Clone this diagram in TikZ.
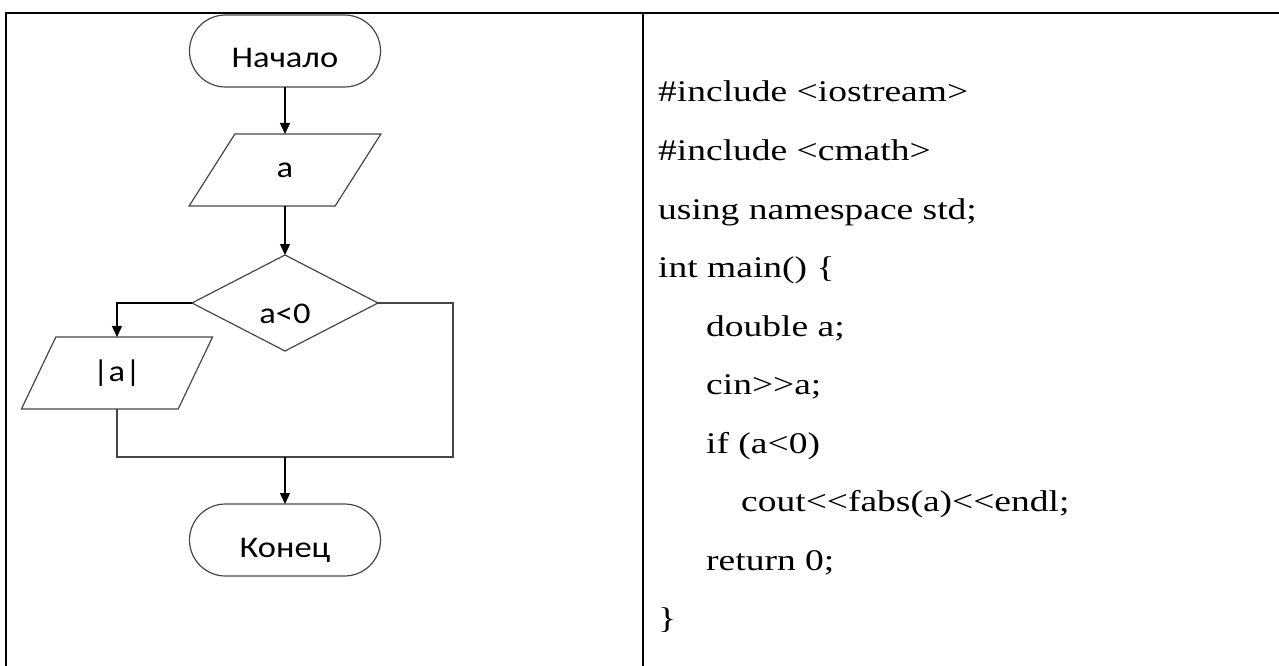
\documentclass[tikz,border=0pt]{standalone}
\usepackage{fontspec}
\setmainfont{Liberation Serif}
\newfontfamily\codefont[FakeStretch=1.25]{Liberation Serif}
\newfontfamily\chartfont[FakeStretch=1.15]{Carlito}
\usetikzlibrary{shapes.geometric,arrows.meta}

\definecolor{edgegray}{RGB}{70,70,70}

\tikzset{
    term/.style={draw=edgegray, line width=1.2pt, rounded corners=36pt, minimum width=191pt,
        minimum height=72pt, inner sep=0pt, outer sep=0pt, text height=34pt, text depth=0pt,
        font=\chartfont\fontsize{30}{30}\selectfont},
    iobox/.style={draw=edgegray, line width=1.2pt, trapezium, trapezium left angle=63,
        trapezium right angle=117, trapezium stretches=true, minimum width=192pt,
        minimum height=72pt, inner sep=0pt, outer sep=0pt, font=\chartfont\fontsize{30}{30}\selectfont},
    test/.style={draw=edgegray, line width=1.2pt, diamond, aspect=1.94, minimum width=186pt,
        minimum height=96pt, inner sep=0pt, outer sep=0pt, text height=40pt, text depth=0pt,
        font=\chartfont\fontsize{30}{30}\selectfont},
    flow/.style={draw=edgegray, line width=1.4pt},
    arr/.style={flow, draw=black, -{Triangle[length=11pt,width=10pt]}},
    code/.style={anchor=base west, inner sep=0pt, font=\codefont\fontsize{30}{30}\selectfont},
    grid/.style={line width=2pt}
}

\begin{document}
\begin{tikzpicture}[x=1pt,y=-1pt]
    \useasboundingbox (0,0) rectangle (1279,666);

    % table
    \draw[grid] (5,13) -- (1279,13);
    \draw[grid] (6,12) -- (6,666);
    \draw[grid] (643,12) -- (643,666);

    % flowchart
    \node[term]  (start) at (285,51)  {Начало};
    \node[iobox] (inp)   at (285,170) {a};
    \node[test]  (cond)  at (285,303) {a<0};
    \node[iobox] (abs)   at (117,373) {|a|};
    \node[term]  (stop)  at (285,540) {Конец};
    \coordinate (join) at (285,457);
    \coordinate (rgt)  at (453,457);

    \draw[arr] (start.south) -- (inp.center |- inp.north);
    \draw[arr] (inp.center |- inp.south) -- (cond.north);
    \draw[arr] (cond.west) -| (abs.center |- abs.north);
    \draw[flow] (abs.center |- abs.south) |- (rgt) |- (cond.east);
    \draw[arr] (join) -- (stop.north);

    % program text
    \node[code] (l1)  at (658,102)   {\#include <iostream>};
    \node[code] (l2)  at (658,160.5) {\#include <cmath>};
    \node[code] (l3)  at (658,219)   {using namespace std;};
    \node[code] (l4)  at (658,277.5) {int main() \{};
    \node[code] (l5)  at (706,336)   {double a;};
    \node[code] (l6)  at (706,394.5) {cin>{}>a;};
    \node[code] (l7)  at (706,453)   {if (a<0)};
    \node[code] (l8)  at (741,511.5) {cout<{}<fabs(a)<{}<endl;};
    \node[code] (l9)  at (706,570)   {return 0;};
    \node[code] (l10) at (658,628.5) {\}};
\end{tikzpicture}
\end{document}
